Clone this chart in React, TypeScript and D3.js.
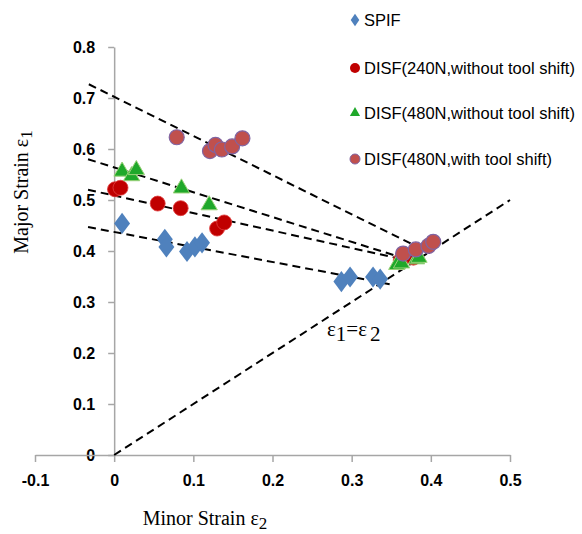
import { useEffect, useRef } from "react";
import * as d3 from "d3";

// values
const xTicks = [-0.1, 0, 0.1, 0.2, 0.3, 0.4, 0.5];
const yTicks = [0, 0.1, 0.2, 0.3, 0.4, 0.5, 0.6, 0.7, 0.8];

const spif: [number, number][] = [
  [0.01, 0.454], [0.064, 0.423], [0.066, 0.408], [0.092, 0.399], [0.102, 0.408],
  [0.111, 0.416], [0.287, 0.34], [0.298, 0.349], [0.327, 0.349], [0.336, 0.345],
];
const disf240: [number, number][] = [
  [0.001, 0.521], [0.008, 0.524], [0.055, 0.493], [0.084, 0.484], [0.13, 0.444],
  [0.139, 0.456], [0.362, 0.382], [0.378, 0.387],
];
const disf480: [number, number][] = [
  [0.01, 0.556], [0.022, 0.547], [0.028, 0.559], [0.085, 0.523], [0.12, 0.49],
  [0.357, 0.373], [0.363, 0.376], [0.382, 0.384], [0.385, 0.387],
];
const disf480Shift: [number, number][] = [
  [0.079, 0.623], [0.121, 0.596], [0.128, 0.608], [0.136, 0.599], [0.149, 0.605],
  [0.162, 0.621], [0.365, 0.395], [0.381, 0.403], [0.397, 0.41], [0.403, 0.418],
];

// dashed fit lines (start, end)
const trendLines: [number, number][][] = [
  [[-0.032, 0.727], [0.399, 0.396]],
  [[-0.033, 0.58], [0.386, 0.376]],
  [[-0.033, 0.52], [0.375, 0.38]],
  [[-0.033, 0.447], [0.348, 0.335]],
  [[0, 0], [0.5, 0.5]],
];

const legendLabels = [
  "SPIF",
  "DISF(240N,without tool shift)",
  "DISF(480N,without tool shift)",
  "DISF(480N,with tool shift)",
];

export default function App() {
  const ref = useRef<SVGSVGElement>(null);

  useEffect(() => {
    const svg = d3.select(ref.current);
    svg.selectAll("*").remove();

    const x = d3.scaleLinear().domain([-0.1, 0.5]).range([35, 510]);
    const y = d3.scaleLinear().domain([0, 0.8]).range([455, 47]);
    const axisColor = "#a6a6a6";

    // y axis at x = 0
    svg
      .append("g")
      .attr("transform", `translate(${x(0)},0)`)
      .call(
        d3.axisLeft(y).tickValues(yTicks).tickSize(6).tickSizeOuter(0).tickPadding(13)
          .tickFormat((d) => String(d))
      )
      .call((g) => g.select(".domain").attr("stroke", axisColor).attr("stroke-width", 1.5))
      .call((g) => g.selectAll(".tick line").attr("stroke", axisColor).attr("stroke-width", 1.5))
      .selectAll("text")
      .attr("font-family", "Liberation Sans, Arial, sans-serif")
      .attr("font-weight", "bold")
      .attr("font-size", 16)
      .attr("fill", "#000");

    // x axis at y = 0
    svg
      .append("g")
      .attr("transform", `translate(0,${y(0)})`)
      .call(
        d3.axisBottom(x).tickValues(xTicks).tickSize(7).tickSizeOuter(0).tickPadding(13)
          .tickFormat((d) => String(d))
      )
      .call((g) => g.select(".domain").attr("stroke", axisColor).attr("stroke-width", 1.5))
      .call((g) => g.selectAll(".tick line").attr("stroke", axisColor).attr("stroke-width", 1.5))
      .selectAll("text")
      .attr("font-family", "Liberation Sans, Arial, sans-serif")
      .attr("font-weight", "bold")
      .attr("font-size", 16)
      .attr("fill", "#000");

    // dashed lines
    const line = d3.line<[number, number]>().x((d) => x(d[0])).y((d) => y(d[1]));
    svg
      .append("g")
      .selectAll("path")
      .data(trendLines)
      .join("path")
      .attr("d", (d) => line(d))
      .attr("fill", "none")
      .attr("stroke", "#000")
      .attr("stroke-width", 2)
      .attr("stroke-dasharray", "8,5");

    const diamond = d3.symbol().type(d3.symbolDiamond).size(130);
    const triangle = d3.symbol().type(d3.symbolTriangle).size(115);

    const pts = svg.append("g");
    pts
      .selectAll(".spif")
      .data(spif)
      .join("path")
      .attr("d", diamond)
      .attr("transform", (d) => `translate(${x(d[0])},${y(d[1])}) scale(1.3,1)`)
      .attr("fill", "#4f81bd");
    pts
      .selectAll(".d240")
      .data(disf240)
      .join("circle")
      .attr("cx", (d) => x(d[0]))
      .attr("cy", (d) => y(d[1]))
      .attr("r", 7.5)
      .attr("fill", "#c00000")
      .attr("stroke", "#e04040")
      .attr("stroke-width", 0.8);
    pts
      .selectAll(".d480")
      .data(disf480)
      .join("path")
      .attr("d", triangle)
      .attr("transform", (d) => `translate(${x(d[0])},${y(d[1])})`)
      .attr("fill", "#1fa82a")
      .attr("stroke", "#9bd27a")
      .attr("stroke-width", 1);
    pts
      .selectAll(".d480s")
      .data(disf480Shift)
      .join("circle")
      .attr("cx", (d) => x(d[0]))
      .attr("cy", (d) => y(d[1]))
      .attr("r", 7.5)
      .attr("fill", "#c0504d")
      .attr("stroke", "#8064a2")
      .attr("stroke-width", 1.2);

    // legend
    const legendY = [20, 68, 113, 159];
    const lg = svg.append("g");
    legendLabels.forEach((label, i) => {
      const cy = legendY[i];
      const mx = 355;
      if (i === 0) {
        lg.append("path").attr("d", d3.symbol().type(d3.symbolDiamond).size(45)())
          .attr("transform", `translate(${mx},${cy}) scale(1.2,1)`).attr("fill", "#4f81bd");
      } else if (i === 1) {
        lg.append("circle").attr("cx", mx).attr("cy", cy).attr("r", 5).attr("fill", "#c00000");
      } else if (i === 2) {
        lg.append("path").attr("d", d3.symbol().type(d3.symbolTriangle).size(45)())
          .attr("transform", `translate(${mx},${cy})`).attr("fill", "#1fa82a");
      } else {
        lg.append("circle").attr("cx", mx).attr("cy", cy).attr("r", 5)
          .attr("fill", "#c0504d").attr("stroke", "#8064a2");
      }
      lg.append("text")
        .attr("x", 364)
        .attr("y", cy)
        .attr("dy", "0.35em")
        .attr("font-family", "Liberation Sans, Arial, sans-serif")
        .attr("font-size", 16.5)
        .attr("fill", "#000")
        .text(label);
    });

    // axis titles
    const title = (sel: any, main: string, sub: string) => {
      sel.append("tspan").text(main);
      sel.append("tspan").attr("dy", 4).attr("font-size", 17).text(sub);
    };
    const yt = svg
      .append("text")
      .attr("transform", "translate(28,192) rotate(-90)")
      .attr("text-anchor", "middle")
      .attr("font-family", "Liberation Serif, Times New Roman, serif")
      .attr("font-size", 20)
      .attr("fill", "#000");
    title(yt, "Major Strain ε", "1");

    const xt = svg
      .append("text")
      .attr("x", 205)
      .attr("y", 525)
      .attr("text-anchor", "middle")
      .attr("font-family", "Liberation Serif, Times New Roman, serif")
      .attr("font-size", 20)
      .attr("fill", "#000");
    title(xt, "Minor Strain ε", "2");

    // annotation
    const an = svg
      .append("text")
      .attr("x", 327)
      .attr("y", 336)
      .attr("font-family", "Liberation Serif, Times New Roman, serif")
      .attr("font-size", 21)
      .attr("fill", "#000");
    an.append("tspan").text("ε");
    an.append("tspan").attr("dy", 5).text("1");
    an.append("tspan").attr("dy", -5).text("=ε");
    an.append("tspan").attr("dy", 5).attr("dx", 3).text("2");
  }, []);

  return (
    <svg
      ref={ref}
      width={582}
      height={534}
      style={{ position: "absolute", left: 0, top: 0, background: "#fff" }}
    />
  );
}
